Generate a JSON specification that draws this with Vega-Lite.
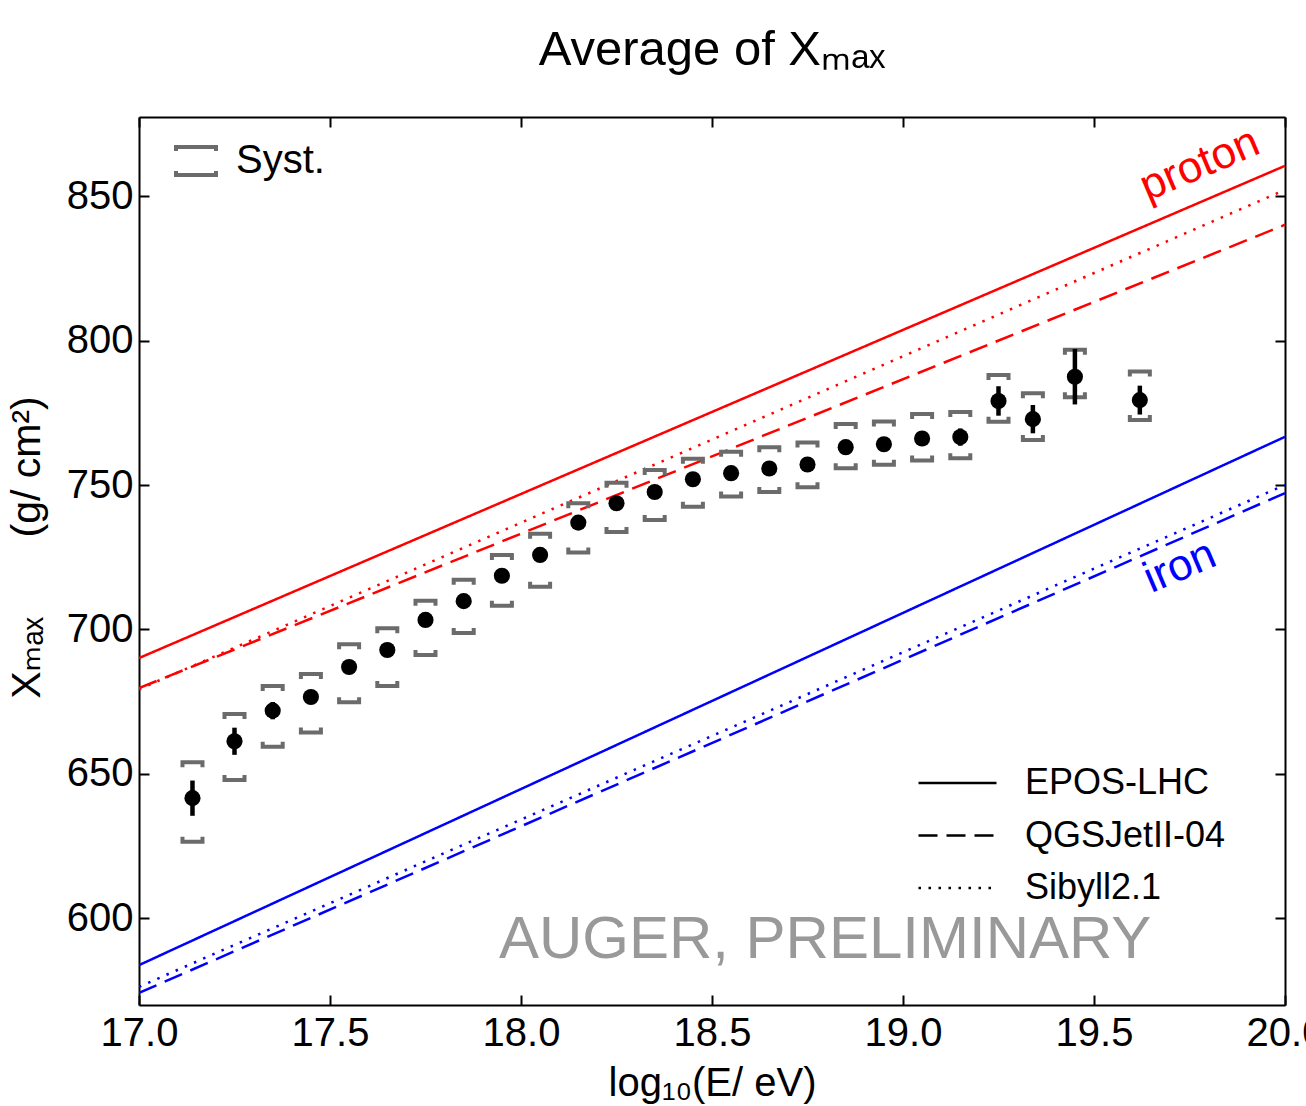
{
  "$schema": "https://vega.github.io/schema/vega-lite/v6.json",
  "width": 1146,
  "height": 888,
  "autosize": {"type": "none"},
  "padding": {"left": 139, "top": 117, "right": 21, "bottom": 101},
  "background": "white",
  "title": {"text": "Average of Xₘₐₓ", "fontSize": 49, "font": "Liberation Sans", "fontWeight": "normal", "offset": 41, "color": "black"},
  "config": {
    "font": "Liberation Sans",
    "view": {"stroke": null},
    "axis": {"grid": false, "domainColor": "black", "domainWidth": 2, "tickColor": "black", "tickWidth": 2, "labelColor": "black", "titleColor": "black", "labelFont": "Liberation Sans", "titleFont": "Liberation Sans, DejaVu Sans", "titleFontWeight": "normal"}
  },
  "datasets": {
    "models": [
      {"model": "EPOS-LHC", "comp": "proton", "lgE": 17.0, "xmax": 690.1},
      {"model": "EPOS-LHC", "comp": "proton", "lgE": 20.0, "xmax": 860.5},
      {"model": "QGSJetII-04", "comp": "proton", "lgE": 17.0, "xmax": 679.7},
      {"model": "QGSJetII-04", "comp": "proton", "lgE": 20.0, "xmax": 840.1},
      {"model": "Sibyll2.1", "comp": "proton", "lgE": 17.0, "xmax": 679.3},
      {"model": "Sibyll2.1", "comp": "proton", "lgE": 20.0, "xmax": 852.2},
      {"model": "EPOS-LHC", "comp": "iron", "lgE": 17.0, "xmax": 583.8},
      {"model": "EPOS-LHC", "comp": "iron", "lgE": 20.0, "xmax": 766.7},
      {"model": "QGSJetII-04", "comp": "iron", "lgE": 17.0, "xmax": 574.2},
      {"model": "QGSJetII-04", "comp": "iron", "lgE": 20.0, "xmax": 747.2},
      {"model": "Sibyll2.1", "comp": "iron", "lgE": 17.0, "xmax": 576.3},
      {"model": "Sibyll2.1", "comp": "iron", "lgE": 20.0, "xmax": 750.0}
    ],
    "points": [
      {"lgE": 17.14, "xmax": 641.6, "stat": 6.1, "sysHi": 654.0, "sysLo": 626.5},
      {"lgE": 17.25, "xmax": 661.3, "stat": 4.7, "sysHi": 670.7, "sysLo": 647.9},
      {"lgE": 17.35, "xmax": 671.9, "stat": 3.0, "sysHi": 680.4, "sysLo": 659.4},
      {"lgE": 17.45, "xmax": 676.6, "stat": 2.2, "sysHi": 684.6, "sysLo": 664.3},
      {"lgE": 17.55, "xmax": 687.0, "stat": 2.0, "sysHi": 694.9, "sysLo": 674.8},
      {"lgE": 17.65, "xmax": 692.9, "stat": 2.0, "sysHi": 700.4, "sysLo": 680.4},
      {"lgE": 17.75, "xmax": 703.3, "stat": 1.8, "sysHi": 709.9, "sysLo": 691.2},
      {"lgE": 17.85, "xmax": 709.8, "stat": 1.8, "sysHi": 717.2, "sysLo": 698.8},
      {"lgE": 17.95, "xmax": 718.6, "stat": 1.7, "sysHi": 725.8, "sysLo": 708.2},
      {"lgE": 18.05, "xmax": 725.8, "stat": 1.7, "sysHi": 733.1, "sysLo": 714.8},
      {"lgE": 18.15, "xmax": 737.0, "stat": 1.8, "sysHi": 743.7, "sysLo": 726.6},
      {"lgE": 18.25, "xmax": 743.7, "stat": 1.8, "sysHi": 750.8, "sysLo": 733.7},
      {"lgE": 18.35, "xmax": 747.6, "stat": 1.8, "sysHi": 755.2, "sysLo": 737.9},
      {"lgE": 18.45, "xmax": 752.0, "stat": 1.8, "sysHi": 759.1, "sysLo": 742.5},
      {"lgE": 18.55, "xmax": 754.1, "stat": 1.8, "sysHi": 761.5, "sysLo": 746.0},
      {"lgE": 18.65, "xmax": 755.7, "stat": 1.8, "sysHi": 763.1, "sysLo": 747.6},
      {"lgE": 18.75, "xmax": 757.1, "stat": 1.9, "sysHi": 764.7, "sysLo": 749.2},
      {"lgE": 18.85, "xmax": 763.1, "stat": 2.0, "sysHi": 771.1, "sysLo": 755.8},
      {"lgE": 18.95, "xmax": 764.1, "stat": 2.2, "sysHi": 772.0, "sysLo": 757.0},
      {"lgE": 19.05, "xmax": 766.1, "stat": 2.6, "sysHi": 774.6, "sysLo": 758.5},
      {"lgE": 19.15, "xmax": 766.6, "stat": 3.0, "sysHi": 775.3, "sysLo": 759.3},
      {"lgE": 19.25, "xmax": 779.1, "stat": 5.1, "sysHi": 788.1, "sysLo": 771.9},
      {"lgE": 19.34, "xmax": 772.8, "stat": 4.9, "sysHi": 781.8, "sysLo": 765.6},
      {"lgE": 19.45, "xmax": 787.5, "stat": 9.6, "sysHi": 796.8, "sysLo": 780.4},
      {"lgE": 19.62, "xmax": 779.4, "stat": 5.0, "sysHi": 789.3, "sysLo": 772.5}
    ],
    "notes": [
      {"label": "proton", "lgE": 19.777, "xmax": 860.8},
      {"label": "iron", "lgE": 19.725, "xmax": 721.6},
      {"label": "AUGER, PRELIMINARY", "lgE": 18.796, "xmax": 592.6}
    ]
  },
  "layer": [
    {
      "data": {"name": "models"},
      "mark": {"type": "line", "strokeWidth": 2.5, "clip": true},
      "encoding": {
        "x": {"field": "lgE", "type": "quantitative", "scale": {"domain": [17, 20], "nice": false, "zero": false},
              "axis": {"orient": "bottom", "values": [17, 17.5, 18, 18.5, 19, 19.5, 20], "format": ".1f", "title": "log₁₀(E/ eV)", "tickSize": -10, "labelPadding": 18, "labelFontSize": 40, "titleFontSize": 40, "titlePadding": 10, "labelFlush": false, "labelOverlap": false}},
        "y": {"field": "xmax", "type": "quantitative", "scale": {"domain": [570, 877.4], "nice": false, "zero": false},
              "axis": {"orient": "left", "values": [600, 650, 700, 750, 800, 850], "title": "Xₘₐₓ\u00a0\u00a0\u00a0\u00a0\u00a0\u00a0 (g/ cm²)", "tickSize": -10, "labelPadding": 16, "labelFontSize": 40, "titleFontSize": 41, "titlePadding": 18, "titleY": 430, "labelFlush": false, "labelOverlap": false}},
        "color": {"field": "comp", "type": "nominal", "scale": {"domain": ["proton", "iron"], "range": ["#ff0000", "#0000ff"]}, "legend": null},
        "strokeDash": {"field": "model", "type": "nominal", "scale": {"domain": ["EPOS-LHC", "QGSJetII-04", "Sibyll2.1"], "range": [[1, 0], [19, 9], [2.5, 7.5]]},
          "legend": {"title": null, "orient": "none", "legendX": 797.5, "legendY": 645, "padding": 0, "symbolType": "M-2,0L2,0", "symbolSize": 1521, "symbolStrokeColor": "black", "symbolStrokeWidth": 2.5, "labelFontSize": 36, "labelOffset": 46.5, "labelLimit": 0, "rowPadding": 13.5, "labelColor": "black", "labelFont": "Liberation Sans"}}
      }
    },
    {
      "data": {"name": "points"},
      "mark": {"type": "point", "shape": "M-1,0.5L-1,0L1,0L1,0.5", "filled": false, "strokeWidth": 4, "size": 400, "strokeCap": "butt", "opacity": 1},
      "encoding": {
        "x": {"field": "lgE", "type": "quantitative", "axis": {"orient": "top", "values": [17, 17.5, 18, 18.5, 19, 19.5, 20], "labels": false, "title": null, "tickSize": -10}},
        "y": {"field": "sysHi", "type": "quantitative", "axis": {"orient": "right", "values": [600, 650, 700, 750, 800, 850], "labels": false, "title": null, "tickSize": -10}},
        "stroke": {"datum": "Syst.", "type": "nominal", "scale": {"domain": ["Syst."], "range": ["#6b6b6b"]},
          "legend": {"title": null, "orient": "none", "legendX": 35, "legendY": 22, "padding": 0, "symbolType": "M-1,-0.5L-1,-0.7L1,-0.7L1,-0.5M-1,0.5L-1,0.7L1,0.7L1,0.5", "symbolSize": 1600, "symbolStrokeWidth": 4, "symbolFillColor": "transparent", "labelFontSize": 40, "labelOffset": 18, "labelColor": "black", "labelFont": "Liberation Sans"}}
      }
    },
    {
      "data": {"name": "points"},
      "mark": {"type": "point", "shape": "M-1,-0.5L-1,0L1,0L1,-0.5", "filled": false, "strokeWidth": 4, "size": 400, "strokeCap": "butt", "opacity": 1},
      "encoding": {
        "x": {"field": "lgE", "type": "quantitative", "axis": null},
        "y": {"field": "sysLo", "type": "quantitative", "axis": null},
        "stroke": {"datum": "Syst.", "type": "nominal"}
      }
    },
    {
      "data": {"name": "points"},
      "transform": [{"calculate": "datum.xmax - datum.stat", "as": "lo"}, {"calculate": "datum.xmax + datum.stat", "as": "hi"}],
      "mark": {"type": "rule", "strokeWidth": 4.5, "color": "black"},
      "encoding": {
        "x": {"field": "lgE", "type": "quantitative", "axis": null},
        "y": {"field": "lo", "type": "quantitative", "axis": null},
        "y2": {"field": "hi"}
      }
    },
    {
      "data": {"name": "points"},
      "mark": {"type": "circle", "size": 260, "color": "black", "opacity": 1},
      "encoding": {
        "x": {"field": "lgE", "type": "quantitative", "axis": null},
        "y": {"field": "xmax", "type": "quantitative", "axis": null}
      }
    },
    {
      "data": {"name": "notes"},
      "transform": [{"filter": "datum.label == 'proton'"}],
      "mark": {"type": "text", "fontSize": 44, "color": "#ff0000", "angle": -23, "align": "center", "baseline": "middle"},
      "encoding": {
        "x": {"field": "lgE", "type": "quantitative", "axis": null},
        "y": {"field": "xmax", "type": "quantitative", "axis": null},
        "text": {"field": "label"}
      }
    },
    {
      "data": {"name": "notes"},
      "transform": [{"filter": "datum.label == 'iron'"}],
      "mark": {"type": "text", "fontSize": 44, "color": "#0000ff", "angle": -23, "align": "center", "baseline": "middle"},
      "encoding": {
        "x": {"field": "lgE", "type": "quantitative", "axis": null},
        "y": {"field": "xmax", "type": "quantitative", "axis": null},
        "text": {"field": "label"}
      }
    },
    {
      "data": {"name": "notes"},
      "transform": [{"filter": "datum.label == 'AUGER, PRELIMINARY'"}],
      "mark": {"type": "text", "fontSize": 60, "color": "#999999", "align": "center", "baseline": "middle"},
      "encoding": {
        "x": {"field": "lgE", "type": "quantitative", "axis": null},
        "y": {"field": "xmax", "type": "quantitative", "axis": null},
        "text": {"field": "label"}
      }
    }
  ],
  "resolve": {"axis": {"x": "independent", "y": "independent"}}
}
